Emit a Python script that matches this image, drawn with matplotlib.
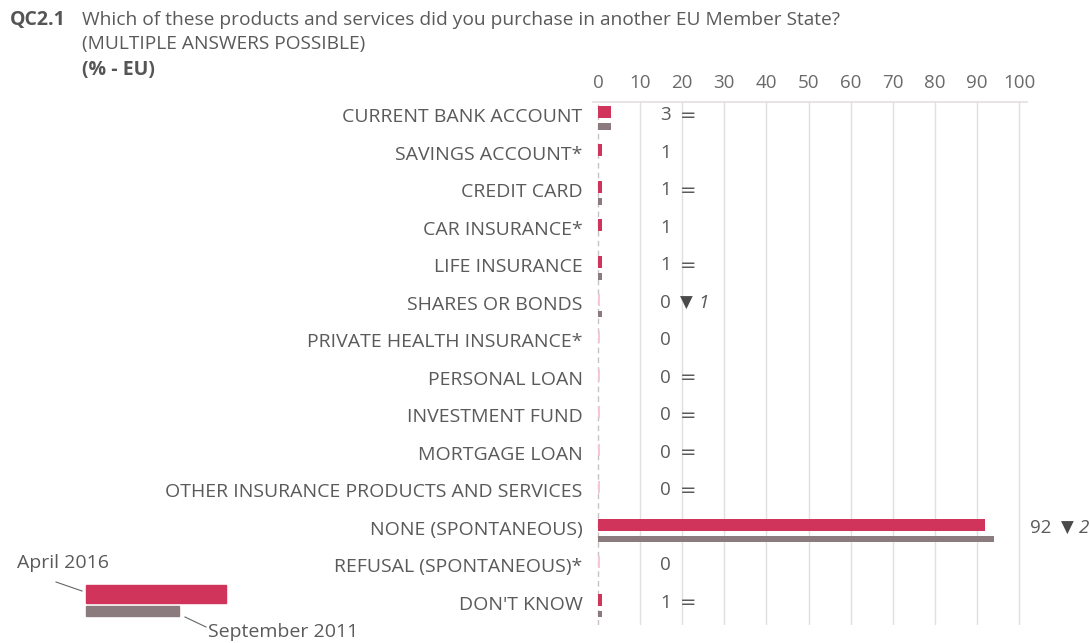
import matplotlib
matplotlib.use("Agg")
import matplotlib.pyplot as plt
from matplotlib.patches import Rectangle
from matplotlib.lines import Line2D

plt.rcParams['font.family'] = ['Open Sans', 'DejaVu Sans']

# data
categories = ["CURRENT BANK ACCOUNT", "SAVINGS ACCOUNT*", "CREDIT CARD", "CAR INSURANCE*",
              "LIFE INSURANCE", "SHARES OR BONDS", "PRIVATE HEALTH INSURANCE*", "PERSONAL LOAN",
              "INVESTMENT FUND", "MORTGAGE LOAN", "OTHER INSURANCE PRODUCTS AND SERVICES",
              "NONE (SPONTANEOUS)", "REFUSAL (SPONTANEOUS)*", "DON'T KNOW"]
apr_2016 = [3, 1, 1, 1, 1, 0, 0, 0, 0, 0, 0, 92, 0, 1]
sep_2011 = [3, None, 1, None, 1, 1, None, 0, 0, 0, 0, 94, None, 1]
trend = ["=", "", "=", "", "=", "down", "", "=", "=", "=", "=", "down", "", "="]
trend_diff = [None, None, None, None, None, 1, None, None, None, None, None, 2, None, None]
xticks = [0, 10, 20, 30, 40, 50, 60, 70, 80, 90, 100]

RED = "#d0345a"
PALE = "#f6c8d4"
GREY = "#8b7b7f"
TXT = "#5a5a5a"
GRID = "#e4dfdf"
FS = 13.5

fig = plt.figure(figsize=(10.9, 6.43), dpi=100)
ax = fig.add_axes([593 / 1090, 1 - 625 / 643, 434 / 1090, 523 / 643])

n = len(categories)
ys = list(range(n))
# bars, zero values get a hairline in pale pink
w16 = [v if v > 0 else 0.4 for v in apr_2016]
c16 = [RED if v > 0 else PALE for v in apr_2016]
ax.barh([y - 0.07 for y in ys], w16, height=0.32, color=c16, zorder=3)
idx11 = [i for i in ys if sep_2011[i] is not None and sep_2011[i] > 0]
ax.barh([i + 0.3 for i in idx11], [sep_2011[i] for i in idx11], height=0.17, color=GREY, zorder=3)

# value labels + change vs 2011
for i in ys:
    top = max(apr_2016[i], sep_2011[i] or 0)
    x = max(14.7, top + 8.6)
    t = ax.text(x, i, str(apr_2016[i]), va="center", ha="left", color=TXT, fontsize=FS)
    if trend[i] == "=":
        ax.annotate("=", xy=(1, 0.5), xycoords=t, xytext=(6.5, 0), textcoords="offset points",
                    va="center", ha="left", color=TXT, fontsize=14, family="DejaVu Sans")
    elif trend[i] == "down":
        a = ax.annotate("\u25BC", xy=(1, 0.5), xycoords=t, xytext=(7, 0), textcoords="offset points",
                        va="center", ha="left", color="#4a4a4a", fontsize=12, family="DejaVu Sans")
        ax.annotate(str(trend_diff[i]), xy=(1, 0.5), xycoords=a, xytext=(4, 0),
                    textcoords="offset points", va="center", ha="left", color=TXT,
                    fontsize=FS, style="italic")

ax.set_xlim(-1.2, 101.9)
ax.set_ylim(n - 0.4, -0.35)
ax.set_yticks(ys)
ax.set_yticklabels(categories)
ax.tick_params(axis="y", length=0, pad=7.5, labelsize=14, labelcolor=TXT)
ax.xaxis.tick_top()
ax.set_xticks(xticks)
ax.tick_params(axis="x", length=0, pad=7, labelsize=FS, labelcolor="#6a6a6a")
for s in ["left", "right", "bottom"]:
    ax.spines[s].set_visible(False)
ax.spines["top"].set_color(GRID)
ax.spines["top"].set_linewidth(1.2)
for xv in xticks[1:]:
    ax.axvline(xv, color=GRID, lw=1, zorder=1)
ax.axvline(0, color="#c8c3c3", lw=1, ls=(0, (4, 3)), zorder=1)

# title block
fig.text(10 / 1090, 1 - 20 / 643, "QC2.1", fontsize=14, fontweight="bold", color="#555555", va="center")
fig.text(82 / 1090, 1 - 20 / 643, "Which of these products and services did you purchase in another EU Member State?",
         fontsize=13.8, color=TXT, va="center")
fig.text(82 / 1090, 1 - 44 / 643, "(MULTIPLE ANSWERS POSSIBLE)", fontsize=13.8, color=TXT, va="center")
fig.text(82 / 1090, 1 - 70 / 643, "(% - EU)", fontsize=14, fontweight="bold", color="#555555", va="center")

# legend in the bottom-left corner
fig.patches.append(Rectangle((86 / 1090, 1 - 603 / 643), 140 / 1090, 18 / 643,
                             transform=fig.transFigure, color=RED))
fig.patches.append(Rectangle((86 / 1090, 1 - 616 / 643), 93 / 1090, 10 / 643,
                             transform=fig.transFigure, color=GREY))
fig.lines.append(Line2D([56 / 1090, 82 / 1090], [1 - 582 / 643, 1 - 591 / 643],
                        transform=fig.transFigure, color="#666666", lw=0.8))
fig.lines.append(Line2D([185 / 1090, 206 / 1090], [1 - 617 / 643, 1 - 627 / 643],
                        transform=fig.transFigure, color="#666666", lw=0.8))
fig.text(17 / 1090, 1 - 563 / 643, "April 2016", fontsize=14, color=TXT, va="center")
fig.text(208 / 1090, 1 - 632 / 643, "September 2011", fontsize=14, color=TXT, va="center")

fig.savefig("out.png", dpi=100)
